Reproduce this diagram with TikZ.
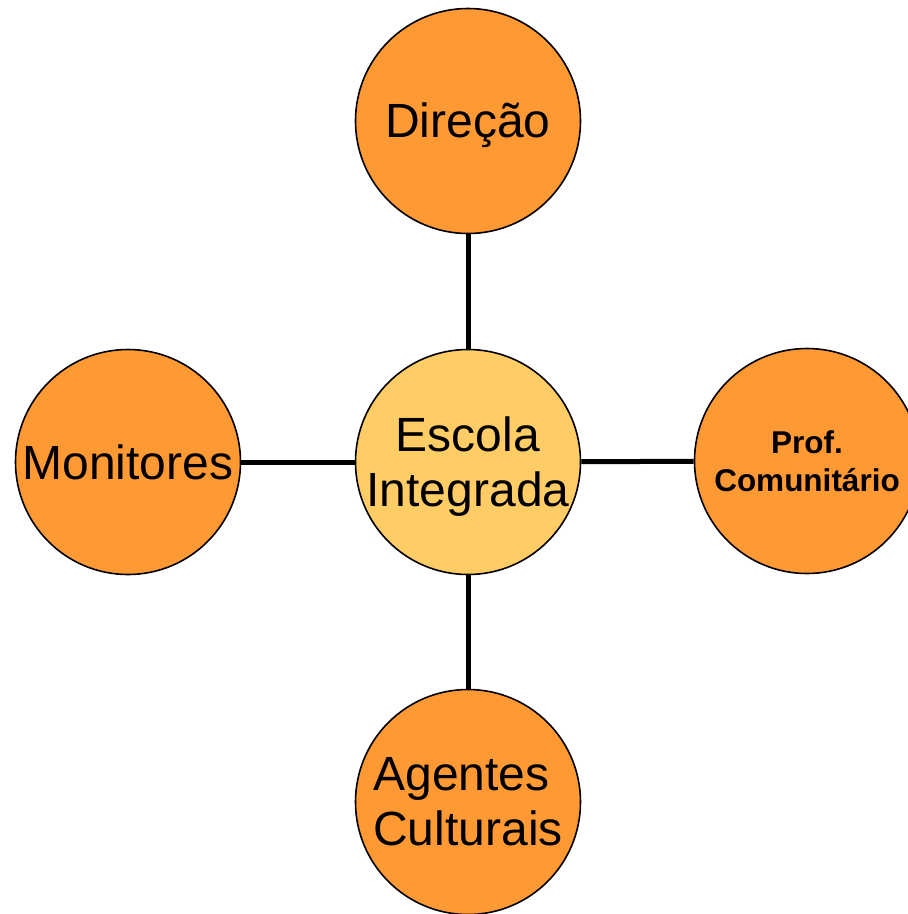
\documentclass[tikz,border=0pt]{standalone}
\usepackage{fontspec}
\setmainfont{Liberation Sans}
\definecolor{orangefill}{HTML}{FF9933}
\definecolor{centerfill}{HTML}{FFCC66}
\begin{document}
\begin{tikzpicture}[x=1pt,y=-1pt,
  bubble/.style={circle,draw=black,line width=1.6pt,fill=orangefill,minimum size=225pt,inner sep=0pt},
  hub/.style={bubble,fill=centerfill},
  txt/.style={inner sep=0pt,font=\fontsize{48}{55}\selectfont,align=center},
  link/.style={line width=5pt,black}]
\useasboundingbox (0,0) rectangle (908,914);
\node[hub] (escola) at (468,462) {};
\node[bubble] (direcao) at (468,121) {};
\node[bubble] (monitores) at (128,462) {};
\node[bubble] (prof) at (807,461) {};
\node[bubble] (agentes) at (468,802) {};
\draw[link] (direcao) -- (escola);
\draw[link] (monitores) -- (escola);
\draw[link] (escola) -- (prof);
\draw[link] (escola) -- (agentes);
\node[txt] (escola-t) at ([yshift=-5pt]escola.center) {Escola\\Integrada};
\node[txt] (direcao-t) at ([yshift=-4pt]direcao.center) {Direção};
\node[txt] (monitores-t) at (monitores.center) {Monitores};
\node[txt,font=\bfseries\fontsize{31.5}{38}\selectfont] (prof-t) at (prof.center) {Prof.\\Comunitário};
\node[txt,align=left] (agentes-t) at (agentes.center) {Agentes\\Culturais};
\end{tikzpicture}
\end{document}
